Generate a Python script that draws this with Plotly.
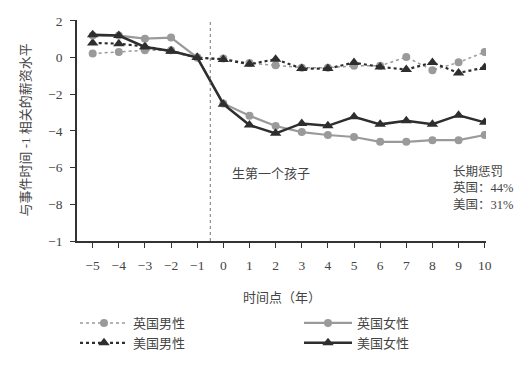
import plotly.graph_objects as go

years = [-5, -4, -3, -2, -1, 0, 1, 2, 3, 4, 5, 6, 7, 8, 9, 10]
uk_men = [0.22, 0.3, 0.4, 0.4, 0.0, -0.05, -0.3, -0.42, -0.55, -0.55, -0.45, -0.45, 0.03, -0.69, -0.26, 0.3]
uk_women = [1.2, 1.2, 1.03, 1.09, 0.0, -2.5, -3.17, -3.73, -4.06, -4.22, -4.33, -4.59, -4.59, -4.5, -4.5, -4.22]
us_men = [0.8, 0.76, 0.6, 0.35, 0.0, -0.1, -0.36, -0.09, -0.6, -0.6, -0.27, -0.51, -0.65, -0.27, -0.84, -0.54]
us_women = [1.25, 1.2, 0.58, 0.36, 0.0, -2.54, -3.68, -4.13, -3.59, -3.72, -3.23, -3.64, -3.45, -3.63, -3.14, -3.53]

x_ticks = [-5, -4, -3, -2, -1, 0, 1, 2, 3, 4, 5, 6, 7, 8, 9, 10]
x_ticktext = ["\u22125", "\u22124", "\u22123", "\u22122", "\u22121", "0", "1", "2", "3", "4", "5", "6", "7", "8", "9", "10"]
y_ticks = [2, 0, -2, -4, -6, -8, -10]
y_ticktext = ["2", "0", "\u22122", "\u22124", "\u22126", "\u22128", "\u22121"]

LIGHT = "#9a9a9a"
DARK = "#2e2e2e"
SERIF = "Liberation Serif, Noto Sans CJK SC, serif"
TXT = "#444444"

W, H = 521, 364

fig = go.Figure()
fig.add_trace(go.Scatter(x=years, y=uk_men, name="英国男性", mode="lines+markers",
                         line=dict(color=LIGHT, width=1.5, dash="dot"),
                         marker=dict(symbol="circle", size=8, color=LIGHT), legend="legend"))
fig.add_trace(go.Scatter(x=years, y=us_men, name="美国男性", mode="lines+markers",
                         line=dict(color=DARK, width=2.2, dash="dot"),
                         marker=dict(symbol="triangle-up", size=10, color=DARK), legend="legend"))
fig.add_trace(go.Scatter(x=years, y=uk_women, name="英国女性", mode="lines+markers",
                         line=dict(color=LIGHT, width=2.2),
                         marker=dict(symbol="circle", size=8, color=LIGHT), legend="legend2"))
fig.add_trace(go.Scatter(x=years, y=us_women, name="美国女性", mode="lines+markers",
                         line=dict(color=DARK, width=2.5),
                         marker=dict(symbol="triangle-up", size=10, color=DARK), legend="legend2"))

fig.add_shape(type="line", x0=-0.5, x1=-0.5, y0=-10, y1=2, xref="x", yref="y",
              line=dict(color="#777777", width=1, dash="dot"))

fig.add_annotation(x=0.25, y=-6.3, xref="x", yref="y", text="生第一个孩子",
                   showarrow=False, xanchor="left", yanchor="middle",
                   font=dict(size=13, color=TXT, family=SERIF))
fig.add_annotation(x=0.915, y=-6.3, xref="paper", yref="y",
                   text="长期惩罚<br>英国：44%<br>美国：31%",
                   showarrow=False, xanchor="left", yanchor="top", align="left",
                   font=dict(size=12.5, color=TXT, family=SERIF), yshift=10)
fig.add_annotation(x=-0.127, y=0.5, xref="paper", yref="paper", xanchor="center", yanchor="middle",
                   text="与事件时间 -1 相关的薪资水平", textangle=-90, showarrow=False,
                   font=dict(size=13, color=TXT, family=SERIF))
fig.add_annotation(x=0.5, y=(241 - 297) / 221, xref="paper", yref="paper", xanchor="center", yanchor="middle",
                   text="时间点（年）", showarrow=False,
                   font=dict(size=13, color=TXT, family=SERIF))

legend_common = dict(orientation="v", yanchor="top", xanchor="left",
                     xref="container", yref="container", traceorder="normal",
                     font=dict(size=13, color=TXT, family=SERIF),
                     itemwidth=48, bgcolor="rgba(0,0,0,0)", tracegroupgap=0)

fig.update_layout(
    width=W, height=H,
    margin=dict(l=69, r=43, t=12, b=131, autoexpand=False),
    paper_bgcolor="white", plot_bgcolor="white",
    font=dict(family=SERIF, size=13, color=TXT),
    showlegend=True,
    legend=dict(x=67 / W, y=1 - 300 / H, **legend_common),
    legend2=dict(x=291 / W, y=1 - 300 / H, **legend_common),
    xaxis=dict(range=[-5.6, 10.05], tickvals=x_ticks, ticktext=x_ticktext,
               showgrid=False, zeroline=False, showline=True, linecolor="#333333",
               linewidth=1.5, ticks="outside", ticklen=5, tickcolor="#333333",
               ticklabelstandoff=6,
               tickfont=dict(size=13.5, family=SERIF, color=TXT), automargin=False),
    yaxis=dict(range=[-10, 2.05], tickvals=y_ticks, ticktext=y_ticktext,
               showgrid=False, zeroline=False, showline=True, linecolor="#333333",
               linewidth=1.5, ticks="outside", ticklen=5, tickcolor="#333333",
               ticklabelstandoff=5,
               tickfont=dict(size=13.5, family=SERIF, color=TXT), automargin=False),
)

fig.write_html("out.html")
